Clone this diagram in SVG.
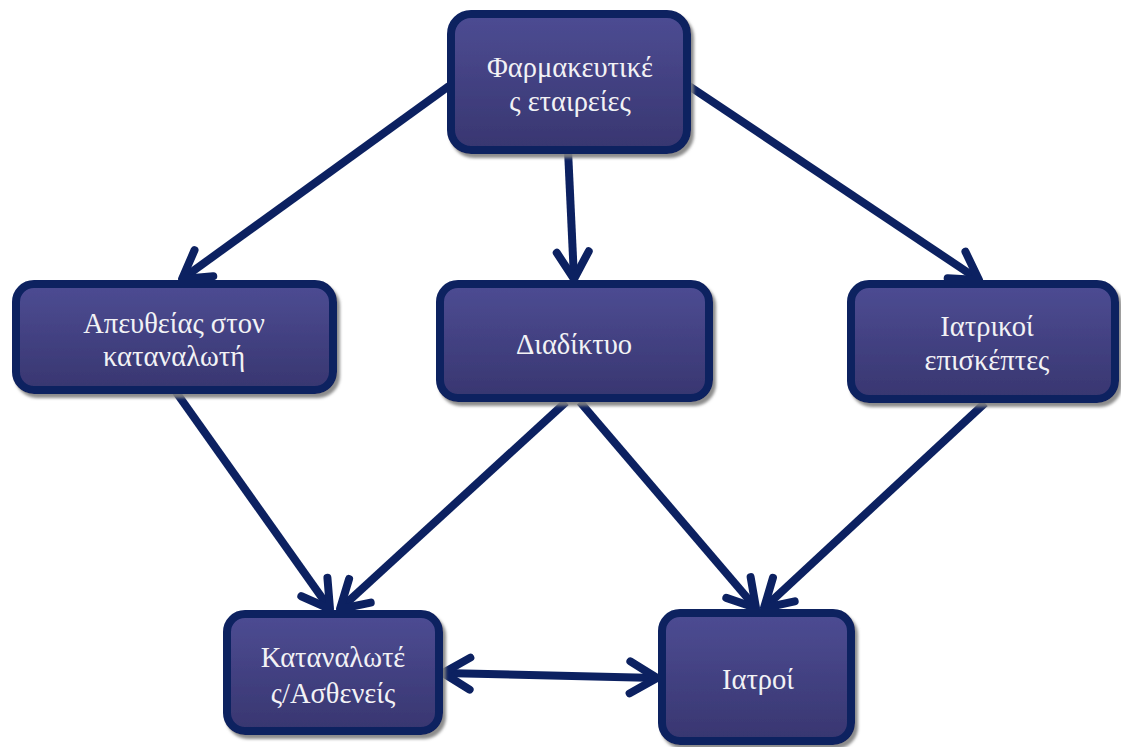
<svg xmlns="http://www.w3.org/2000/svg" width="1121" height="747" viewBox="0 0 1121 747">
  <style>
    .box { stroke: #0c2161; stroke-width: 8; fill: url(#boxFill); filter: url(#shadow); }
    .label { font-family: "Liberation Serif", "DejaVu Serif", serif; font-size: 28.5px; fill: #f2f2f5; text-anchor: middle; }
    .link { stroke: #0c2161; stroke-width: 8; fill: none; marker-end: url(#arrow); }
  </style>
  <defs>
    <linearGradient id="boxFill" x1="0" y1="0" x2="0" y2="1">
      <stop offset="0" stop-color="#4d4c93"/>
      <stop offset="1" stop-color="#383670"/>
    </linearGradient>
    <filter id="shadow" x="-10%" y="-10%" width="125%" height="130%">
      <feDropShadow dx="3" dy="4" stdDeviation="1.5" flood-color="#808080" flood-opacity="0.9"/>
    </filter>
    <marker id="arrow" markerUnits="userSpaceOnUse" viewBox="-34 -22 40 44" refX="0" refY="0" markerWidth="40" markerHeight="44" orient="auto-start-reverse" overflow="visible">
      <path d="M-27,-16 L0,0 L-27,16" fill="none" stroke="#0c2161" stroke-width="8" stroke-linecap="round" stroke-linejoin="round"/>
    </marker>
  </defs>

  <rect width="1121" height="747" fill="#ffffff"/>

  <!-- connectors -->
  <g id="connectors">
    <line class="link" x1="449" y1="86" x2="182" y2="279"/>
    <line class="link" x1="568" y1="150" x2="574" y2="279"/>
    <line class="link" x1="689" y1="86" x2="979" y2="280"/>
    <line class="link" x1="176" y1="392" x2="330" y2="609"/>
    <line class="link" x1="566" y1="402" x2="340" y2="609"/>
    <line class="link" x1="580" y1="402" x2="756" y2="608"/>
    <line class="link" x1="985" y1="403" x2="764" y2="608"/>
    <line class="link" x1="443" y1="673" x2="657" y2="678" marker-start="url(#arrow)"/>
  </g>

  <!-- nodes -->
  <g id="pharma">
    <rect class="box" x="451" y="14" width="236" height="136" rx="20"/>
    <text class="label" x="570" y="77">Φαρμακευτικέ</text>
    <text class="label" x="570" y="111">ς εταιρείες</text>
  </g>
  <g id="direct">
    <rect class="box" x="16" y="284" width="317" height="106" rx="18"/>
    <text class="label" x="174" y="333">Απευθείας στον</text>
    <text class="label" x="174" y="366">καταναλωτή</text>
  </g>
  <g id="internet">
    <rect class="box" x="440" y="284" width="269" height="114" rx="18"/>
    <text class="label" x="574" y="354">Διαδίκτυο</text>
  </g>
  <g id="visitors">
    <rect class="box" x="851" y="284" width="264" height="115" rx="18"/>
    <text class="label" x="987" y="336">Ιατρικοί</text>
    <text class="label" x="987" y="370">επισκέπτες</text>
  </g>
  <g id="patients">
    <rect class="box" x="227" y="614" width="212" height="117" rx="18"/>
    <text class="label" x="333" y="667">Καταναλωτέ</text>
    <text class="label" x="333" y="703">ς/Ασθενείς</text>
  </g>
  <g id="doctors">
    <rect class="box" x="662" y="613" width="189" height="128" rx="18"/>
    <text class="label" x="758" y="689">Ιατροί</text>
  </g>
</svg>
